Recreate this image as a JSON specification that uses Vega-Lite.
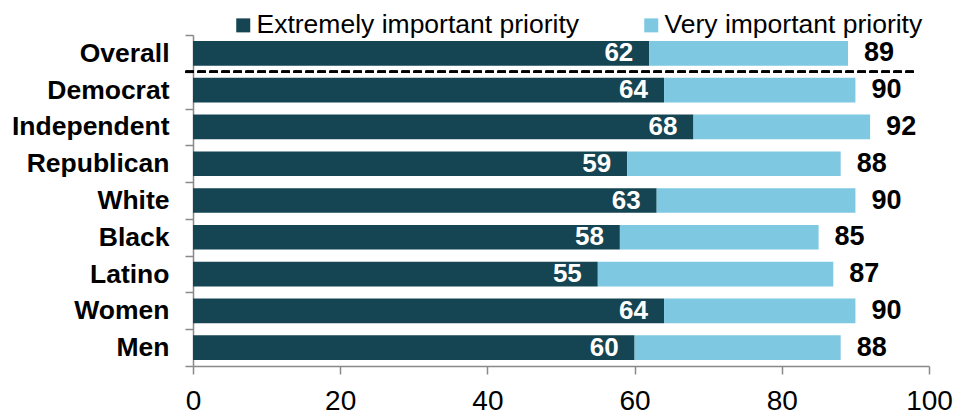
{
  "$schema": "https://vega.github.io/schema/vega-lite/v6.json",
  "width": 736,
  "height": 331,
  "autosize": "none",
  "padding": {"left": 193, "top": 35, "right": 25, "bottom": 49},
  "background": "white",
  "config": {"view": {"stroke": null}, "font": "Liberation Sans"},
  "data": {
    "values": [
      {"group": "Overall", "extremely": 62, "total": 89},
      {"group": "Democrat", "extremely": 64, "total": 90},
      {"group": "Independent", "extremely": 68, "total": 92},
      {"group": "Republican", "extremely": 59, "total": 88},
      {"group": "White", "extremely": 63, "total": 90},
      {"group": "Black", "extremely": 58, "total": 85},
      {"group": "Latino", "extremely": 55, "total": 87},
      {"group": "Women", "extremely": 64, "total": 90},
      {"group": "Men", "extremely": 60, "total": 88}
    ]
  },
  "encoding": {
    "y": {
      "field": "group",
      "type": "nominal",
      "sort": null,
      "scale": {"paddingInner": 0, "paddingOuter": 0},
      "axis": {
        "title": null,
        "labelFontSize": 26.5,
        "labelFontWeight": "bold",
        "labelColor": "black",
        "tickBand": "extent",
        "tickSize": 8,
        "tickColor": "#898989",
        "tickWidth": 1.5,
        "domainColor": "#898989",
        "domainWidth": 1.5,
        "labelPadding": 16,
        "labelLimit": 300
      }
    }
  },
  "layer": [
    {
      "mark": {"type": "bar", "height": {"band": 0.67}},
      "encoding": {
        "x": {
          "field": "extremely",
          "type": "quantitative",
          "scale": {"domain": [0, 100]},
          "axis": {
            "title": null,
            "values": [0, 20, 40, 60, 80, 100],
            "grid": false,
            "labelFontSize": 28,
            "labelColor": "black",
            "labelFlush": false,
            "labelOverlap": false,
            "tickSize": 8,
            "tickColor": "#898989",
            "tickWidth": 1.5,
            "domainColor": "#898989",
            "domainWidth": 1.5,
            "labelPadding": 13
          }
        },
        "color": {
          "datum": "Extremely important priority",
          "scale": {
            "domain": ["Extremely important priority", "Very important priority"],
            "range": ["#154452", "#7ec8e2"]
          },
          "legend": {
            "orient": "none",
            "legendX": 37,
            "legendY": -23,
            "direction": "horizontal",
            "title": null,
            "symbolType": "square",
            "symbolSize": 196,
            "symbolStrokeWidth": 0,
            "symbolOpacity": 1,
            "labelFontSize": 26.5,
            "labelColor": "black",
            "labelOffset": 0,
            "columnPadding": 58,
            "labelLimit": 400,
            "padding": 0
          }
        }
      }
    },
    {
      "mark": {"type": "bar", "height": {"band": 0.67}},
      "encoding": {
        "x": {"field": "extremely", "type": "quantitative", "title": null},
        "x2": {"field": "total"},
        "color": {"datum": "Very important priority"}
      }
    },
    {
      "mark": {"type": "text", "align": "right", "baseline": "middle", "dx": -16, "color": "white", "fontWeight": "bold", "fontSize": 26},
      "encoding": {
        "x": {"field": "extremely", "type": "quantitative", "title": null},
        "text": {"field": "extremely", "type": "quantitative"}
      }
    },
    {
      "mark": {"type": "text", "align": "left", "baseline": "middle", "dx": 16, "color": "black", "fontWeight": "bold", "fontSize": 27},
      "encoding": {
        "x": {"field": "total", "type": "quantitative", "title": null},
        "text": {"field": "total", "type": "quantitative"}
      }
    },
    {
      "mark": {"type": "rule", "strokeDash": [8, 4], "strokeWidth": 2, "color": "black"},
      "encoding": {
        "x": {"datum": -1},
        "x2": {"datum": 98},
        "y": {"datum": "Democrat", "bandPosition": 0}
      }
    }
  ]
}
